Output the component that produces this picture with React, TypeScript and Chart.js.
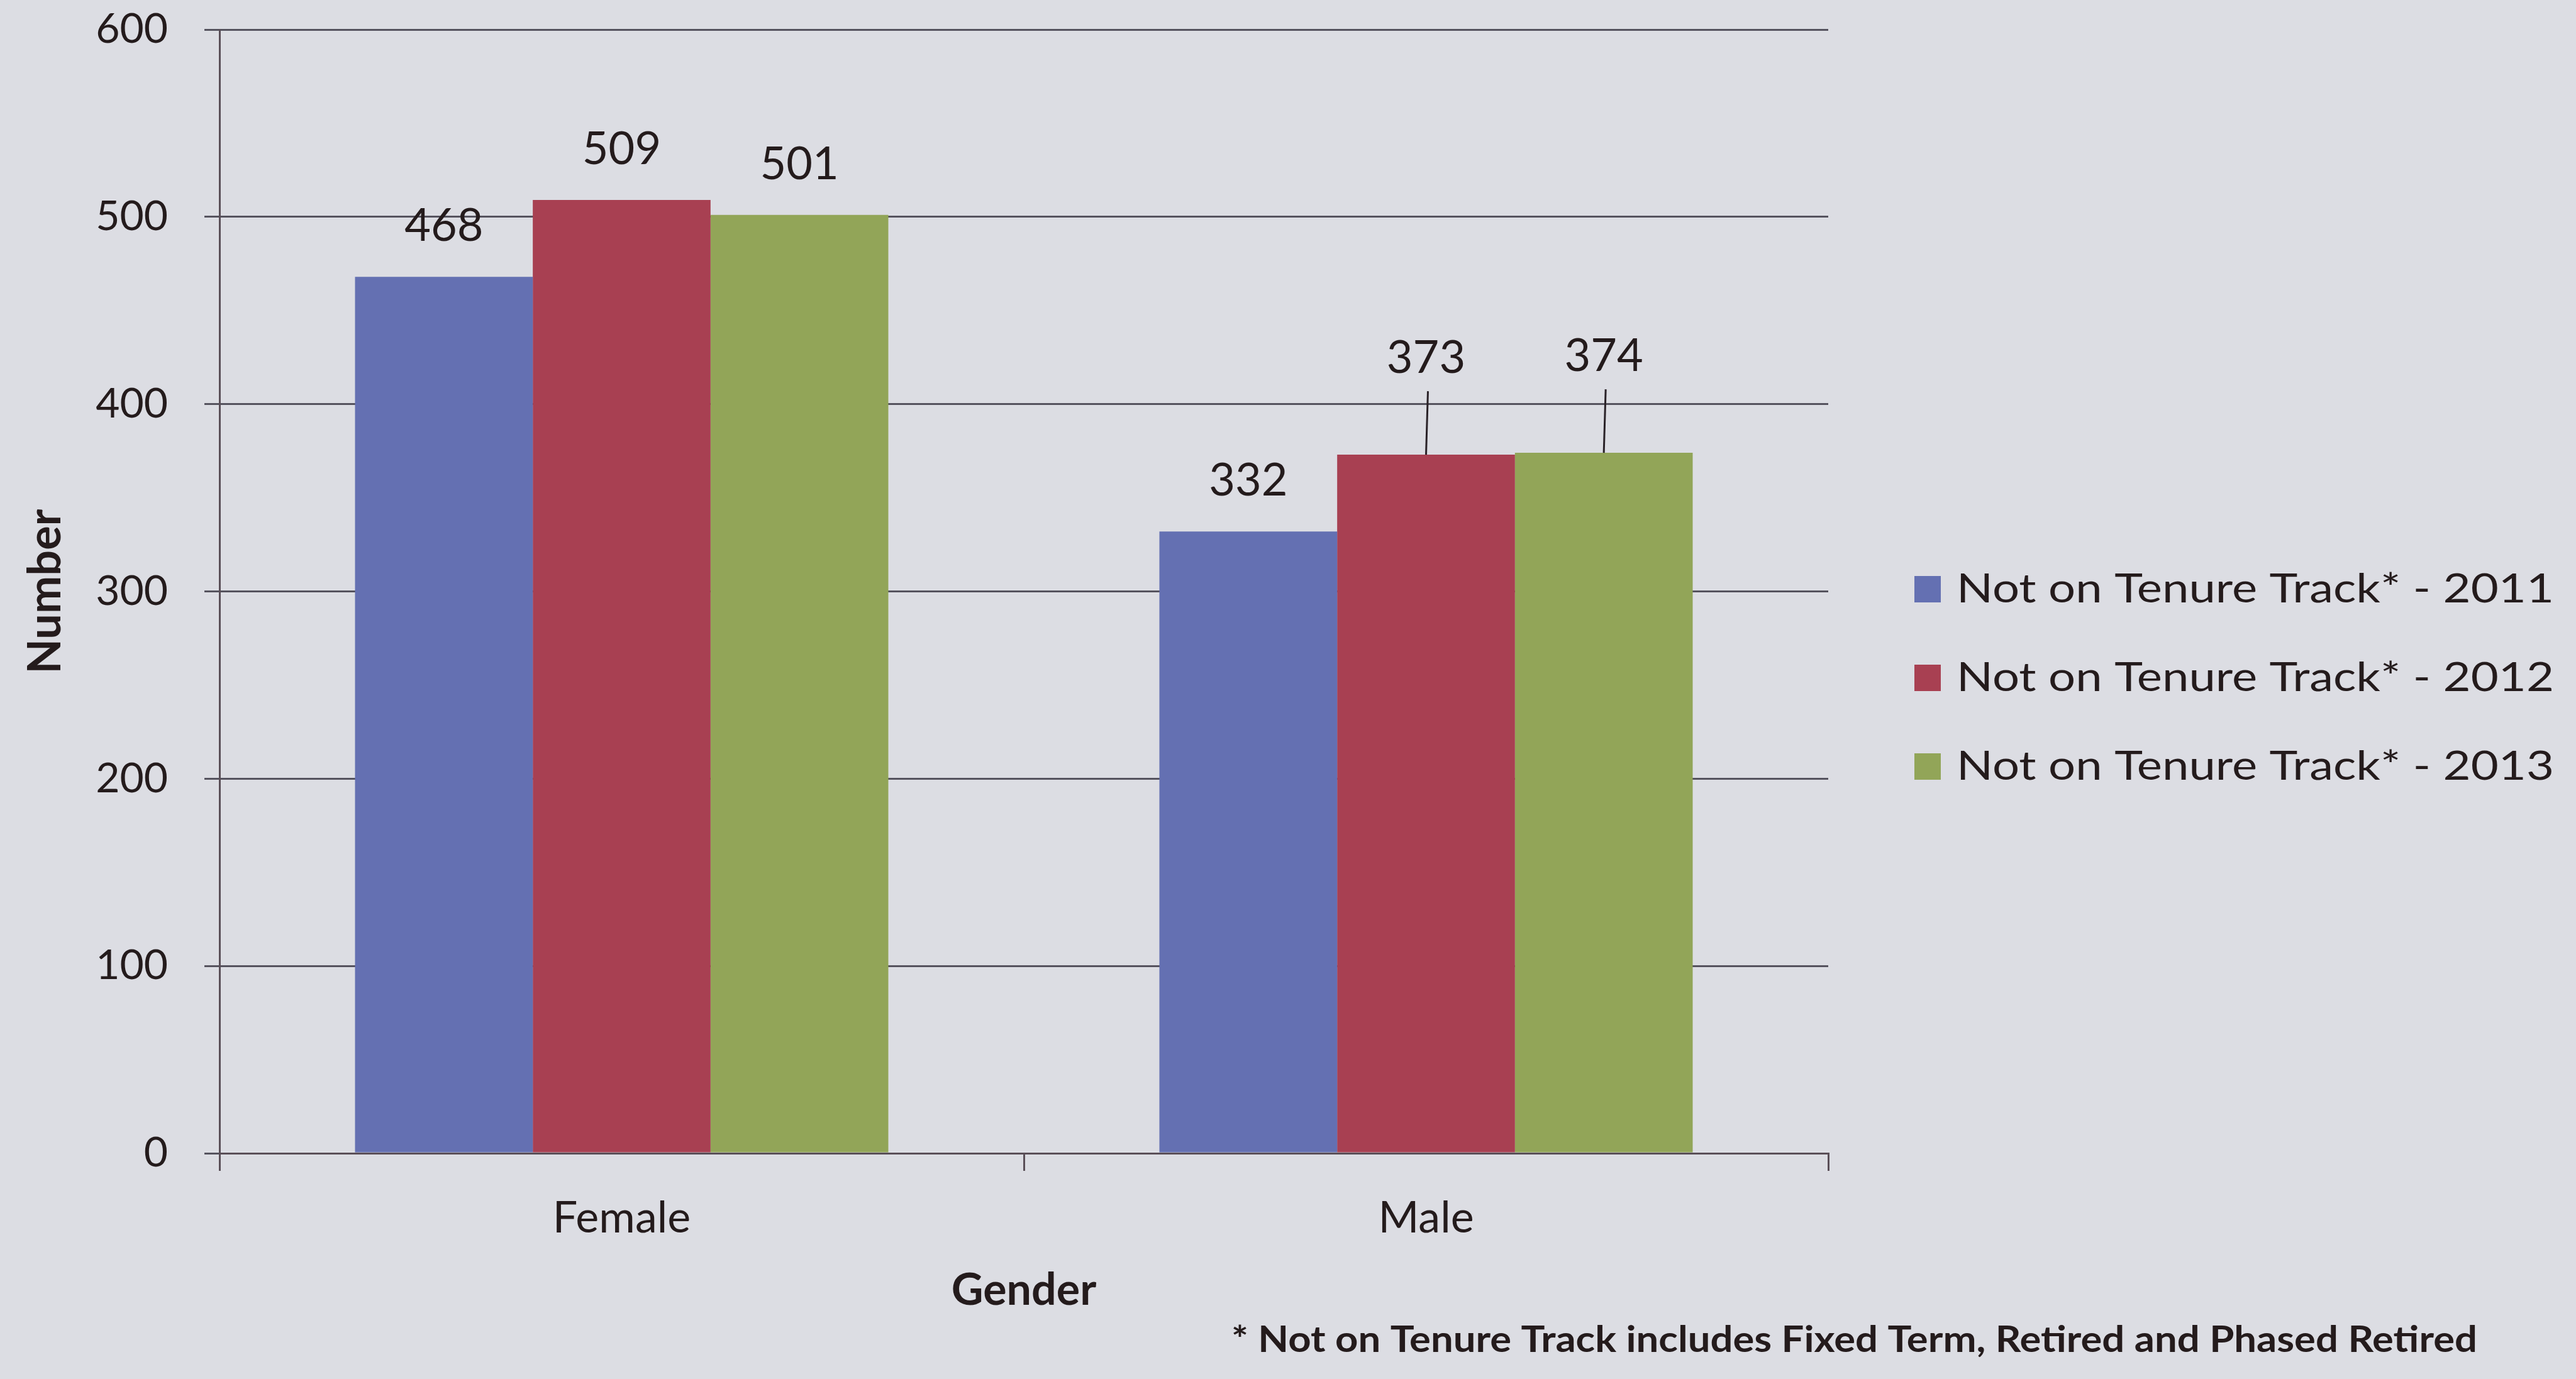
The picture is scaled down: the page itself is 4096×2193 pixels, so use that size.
import React, { useEffect, useRef } from "react";
import { Chart, registerables } from "chart.js";

Chart.register(...registerables);

// ---------- data ----------
const categories = ["Female", "Male"];
const seriesLabels = [
  "Not on Tenure Track* - 2011",
  "Not on Tenure Track* - 2012",
  "Not on Tenure Track* - 2013",
];
const values2011 = [468, 332];
const values2012 = [509, 373];
const values2013 = [501, 374];
const yTickValues = [0, 100, 200, 300, 400, 500, 600];
const xTitle = "Gender";
const yTitle = "Number";
const footnote = "* Not on Tenure Track includes Fixed Term, Retired and Phased Retired";
// value labels that sit higher with a leader line: [seriesIndex, categoryIndex]
const leaderLabels = [
  [1, 1],
  [2, 1],
];

// ---------- styles ----------
const W = 4096;
const H = 2193;
const BG = "#dcdde3";
const TEXT = "#241b1c";
const GRID = "#55535e";
const AXIS = "#5a4f58";
const COLORS = ["#6470b2", "#a84052", "#92a558"];
const FONT = "Lato";
const PLOT_LEFT = 349;
const PLOT_RIGHT = 2907;
const PLOT_TOP = 47;
const PLOT_BOTTOM = 1834;

const bgPlugin = {
  id: "bgFill",
  beforeDraw(chart: any) {
    const { ctx } = chart;
    ctx.save();
    ctx.fillStyle = BG;
    ctx.fillRect(0, 0, chart.width, chart.height);
    ctx.restore();
  },
};

// pin the plot area to the reference's position
const areaPlugin = {
  id: "pinArea",
  afterLayout(chart: any) {
    const a = chart.chartArea;
    const shift = PLOT_TOP - a.top;
    if (shift !== 0) {
      a.top = PLOT_TOP;
      a.height = a.bottom - a.top;
      const y = chart.scales.y;
      y.top = PLOT_TOP;
      y.height = y.bottom - y.top;
      y.configure();
      // re-run scale sizing for pixel conversions
    }
  },
};

const valueLabelPlugin = {
  id: "valueLabels",
  afterDatasetsDraw(chart: any) {
    const { ctx } = chart;
    ctx.save();
    ctx.font = `72px ${FONT}`;
    ctx.fillStyle = TEXT;
    ctx.textAlign = "center";
    ctx.textBaseline = "middle";
    chart.data.datasets.forEach((ds: any, di: number) => {
      const meta = chart.getDatasetMeta(di);
      meta.data.forEach((bar: any, i: number) => {
        const leader = leaderLabels.some(([a, b]) => a === di && b === i);
        const { x, y } = bar.getProps(["x", "y"], true);
        ctx.fillText(String(ds.data[i]), x, y - (leader ? 153 : 80));
        if (leader) {
          ctx.strokeStyle = "#2a2228";
          ctx.lineWidth = 3;
          ctx.beginPath();
          ctx.moveTo(x + 3, y - 101);
          ctx.lineTo(x, y);
          ctx.stroke();
        }
      });
    });
    ctx.restore();
  },
};

const legendPlugin = {
  id: "customLegend",
  afterDraw(chart: any) {
    const { ctx } = chart;
    ctx.save();
    const boxX = 3044;
    const textX = 3111;
    const top = 937;
    const step = 141;
    const box = 42;
    const textWidth = 950;
    chart.data.datasets.forEach((ds: any, i: number) => {
      const cy = top + i * step;
      ctx.fillStyle = ds.backgroundColor;
      ctx.fillRect(boxX, cy - box / 2, box, box);
      ctx.font = `64px ${FONT}`;
      ctx.fillStyle = TEXT;
      ctx.textAlign = "left";
      ctx.textBaseline = "middle";
      const w = ctx.measureText(ds.label).width;
      ctx.save();
      ctx.translate(textX, cy);
      ctx.scale(textWidth / w, 1);
      ctx.fillText(ds.label, 0, 0);
      ctx.restore();
    });
    ctx.restore();
  },
};

const footnotePlugin = {
  id: "footnote",
  afterDraw(chart: any) {
    const { ctx } = chart;
    ctx.save();
    ctx.font = `bold 58px ${FONT}`;
    ctx.fillStyle = TEXT;
    ctx.textAlign = "left";
    ctx.textBaseline = "middle";
    const w = ctx.measureText(footnote).width;
    ctx.translate(1958, 2131);
    ctx.scale(1981 / w, 1);
    ctx.fillText(footnote, 0, 0);
    ctx.restore();
  },
};

export default function App() {
  const ref = useRef<HTMLCanvasElement | null>(null);

  useEffect(() => {
    document.body.style.margin = "0";
    document.body.style.overflow = "hidden";
    document.body.style.background = BG;
    const canvas = ref.current;
    if (!canvas) return;
    const series = [values2011, values2012, values2013];
    const chart = new Chart(canvas, {
      type: "bar",
      data: {
        labels: categories,
        datasets: series.map((vals, i) => ({
          label: seriesLabels[i],
          data: vals,
          backgroundColor: COLORS[i],
          borderWidth: 0,
          categoryPercentage: 0.663,
          barPercentage: 1,
        })),
      },
      options: {
        responsive: false,
        animation: false,
        devicePixelRatio: 1,
        layout: {
          padding: { top: 0, right: W - PLOT_RIGHT, bottom: 0, left: 0 },
        },
        plugins: {
          legend: { display: false },
          tooltip: { enabled: false },
        },
        scales: {
          x: {
            grid: {
              display: true,
              drawOnChartArea: false,
              drawTicks: true,
              tickLength: 28,
              color: AXIS,
              lineWidth: 3,
              offset: true,
            },
            border: { display: true, color: AXIS, width: 3 },
            ticks: {
              font: { family: FONT, size: 70 },
              color: TEXT,
              padding: 33,
            },
            title: {
              display: true,
              text: xTitle,
              font: { family: FONT, size: 70, weight: "bold" },
              color: TEXT,
              padding: { top: 0, bottom: 99 },
            },
            afterFit: (s: any) => {
              s.height = H - PLOT_BOTTOM;
            },
          },
          y: {
            min: 0,
            max: 600,
            afterBuildTicks: (s: any) => {
              s.ticks = yTickValues.map((v) => ({ value: v }));
            },
            ticks: {
              font: { family: FONT, size: 66 },
              color: TEXT,
              padding: 58,
            },
            grid: { color: GRID, lineWidth: 3, tickLength: 24 },
            border: { display: true, color: AXIS, width: 3 },
            title: {
              display: true,
              text: yTitle,
              font: { family: FONT, size: 72, weight: "bold" },
              color: TEXT,
              padding: { top: 30, bottom: 0 },
            },
            afterFit: (s: any) => {
              s.width = PLOT_LEFT;
              s.paddingTop = 0;
            },
          },
        },
      } as any,
      plugins: [bgPlugin, valueLabelPlugin, legendPlugin, footnotePlugin],
    });
    // measure where the plot top landed and correct layout padding once
    const off = chart.chartArea.top - PLOT_TOP;
    if (off !== 0) {
      (chart.options as any).layout.padding.top = Math.max(0, -off);
      chart.update();
      const off2 = chart.chartArea.top - PLOT_TOP;
      if (off2 > 0) {
        // fall back: shrink via negative padding
        (chart.options as any).layout.padding.top = -off2 + Math.max(0, -off);
        chart.update();
      }
    }
    return () => chart.destroy();
  }, []);

  return (
    <div style={{ width: W, height: H, background: BG }}>
      <canvas ref={ref} width={W} height={H} style={{ display: "block", width: W, height: H }} />
    </div>
  );
}
